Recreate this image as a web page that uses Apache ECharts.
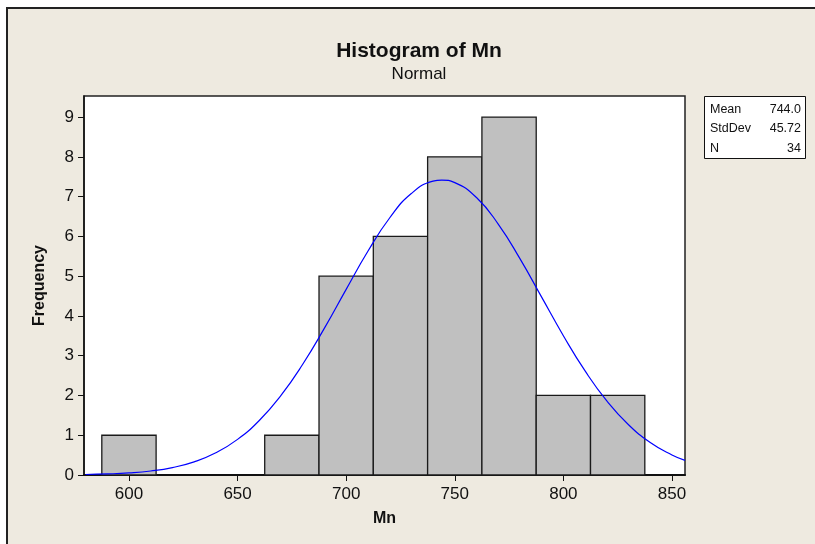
<!DOCTYPE html>
<html>
<head>
<meta charset="utf-8">
<script src="https://cdn.jsdelivr.net/npm/echarts@6/dist/echarts.min.js"></script>
<style>
html,body{margin:0;padding:0;background:#fff;}
#chart{width:815px;height:544px;}
</style>
</head>
<body>
<div id="chart"></div>
<script>
// Histogram bins (centers, width 25) and frequencies
const binCenters = [600, 625, 650, 675, 700, 725, 750, 775, 800, 825];
const binCounts  = [1, 0, 0, 1, 5, 6, 8, 9, 2, 2];
const binWidth = 25;
// Fitted normal curve points [Mn, frequency]
const curveX = [580, 590, 600, 610, 620, 630, 640, 650, 660, 670, 680, 690, 700, 710, 720, 730, 740, 744, 750, 760, 770, 780, 790, 800, 810, 820, 830, 840, 850, 856];
const curveY = [0.012, 0.026, 0.052, 0.101, 0.187, 0.331, 0.558, 0.896, 1.371, 2.002, 2.784, 3.692, 4.668, 5.625, 6.462, 7.077, 7.389, 7.417, 7.353, 6.977, 6.310, 5.440, 4.472, 3.503, 2.617, 1.863, 1.265, 0.818, 0.504, 0.369];
const xTicks = [600, 650, 700, 750, 800, 850];
const stats = [["Mean", "744.0"], ["StdDev", "45.72"], ["N", "34"]];
const titleText = "Histogram of Mn";
const subtitleText = "Normal";

const chart = echarts.init(document.getElementById('chart'), null, {renderer: 'canvas'});
const font = "Arial, 'Liberation Sans', sans-serif";
const beige = '#EEEAE0';

const statGraphics = [];
stats.forEach((s, i) => {
  statGraphics.push({type: 'text', left: 710, top: 103 + i * 19.5, style: {text: s[0], font: '12.5px ' + font, fill: '#111'}});
  statGraphics.push({type: 'text', right: 14, top: 103 + i * 19.5, style: {text: s[1], font: '12.5px ' + font, fill: '#111', align: 'right'}});
});

chart.setOption({
  backgroundColor: '#ffffff',
  animation: false,
  graphic: [
    {type: 'rect', z: -10, shape: {x: 7, y: 8, width: 830, height: 560}, style: {fill: beige, stroke: '#222', lineWidth: 2}},
    {type: 'rect', z: 5, shape: {x: 704.5, y: 96.5, width: 101, height: 62}, style: {fill: '#fff', stroke: '#111', lineWidth: 1}},
    ...statGraphics.map(g => Object.assign(g, {z: 6}))
  ],
  title: {
    text: titleText,
    subtext: subtitleText,
    left: 414,
    top: 36,
    textAlign: 'center',
    itemGap: 4,
    textStyle: {fontFamily: font, fontSize: 21, fontWeight: 'bold', color: '#111'},
    subtextStyle: {fontFamily: font, fontSize: 17, color: '#111'}
  },
  grid: {
    left: 84, top: 96, right: 130, bottom: 69,
    show: true, backgroundColor: '#ffffff', borderColor: '#222', borderWidth: 1.5
  },
  xAxis: {
    type: 'value',
    min: 579.3,
    max: 856,
    name: 'Mn',
    nameLocation: 'middle',
    nameGap: 36,
    nameTextStyle: {fontFamily: font, fontSize: 16, fontWeight: 'bold', color: '#111'},
    axisLine: {show: true, onZero: false, lineStyle: {color: '#111', width: 2}},
    axisTick: {show: true, length: 6, customValues: xTicks, lineStyle: {color: '#111'}},
    axisLabel: {customValues: xTicks, fontFamily: font, fontSize: 17, color: '#111', margin: 11},
    splitLine: {show: false}
  },
  yAxis: {
    type: 'value',
    min: 0,
    max: 9.53,
    interval: 1,
    name: 'Frequency',
    nameLocation: 'middle',
    nameGap: 36,
    nameRotate: 90,
    nameTextStyle: {fontFamily: font, fontSize: 16, fontWeight: 'bold', color: '#111'},
    axisLine: {show: true, lineStyle: {color: '#111', width: 1.5}},
    axisTick: {show: true, length: 6, lineStyle: {color: '#111'}},
    axisLabel: {fontFamily: font, fontSize: 17, color: '#111', margin: 10, showMaxLabel: false,
      formatter: v => (Math.abs(v - Math.round(v)) < 1e-6 && v <= 9) ? String(Math.round(v)) : ''},
    splitLine: {show: false}
  },
  series: [
    {
      type: 'custom',
      z: 2,
      data: binCenters.map((c, i) => [c, binCounts[i]]),
      renderItem: function (params, api) {
        const c = api.value(0), n = api.value(1);
        if (n <= 0) return null;
        const p0 = api.coord([c - binWidth / 2, n]);
        const p1 = api.coord([c + binWidth / 2, 0]);
        return {
          type: 'rect',
          shape: {x: p0[0], y: p0[1], width: p1[0] - p0[0], height: p1[1] - p0[1]},
          style: {fill: '#C0C0C0', stroke: '#1a1a1a', lineWidth: 1.3}
        };
      }
    },
    {
      type: 'line',
      z: 3,
      data: curveX.map((x, i) => [x, curveY[i]]),
      smooth: true,
      showSymbol: false,
      lineStyle: {color: '#0000FF', width: 1.2}
    }
  ]
});
</script>
</body>
</html>
